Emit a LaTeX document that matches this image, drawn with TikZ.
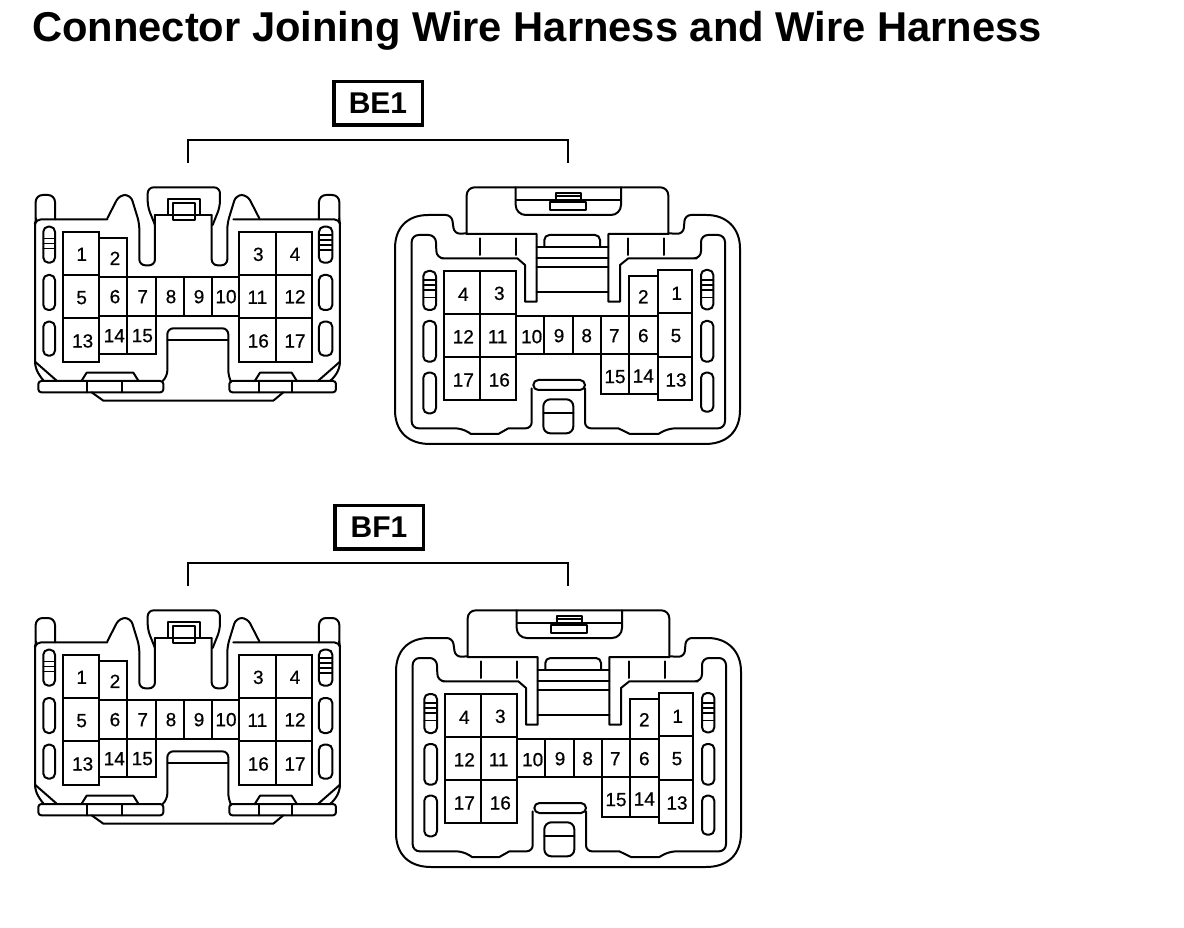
\documentclass[tikz,border=0pt]{standalone}
\usepackage{fontspec}
\setmainfont{Liberation Sans}
\newfontfamily\numfont[FakeBold=0.6]{Liberation Sans}
\tikzset{
 ln/.style={line width=2pt,line join=round,line cap=round,black},
 thin ln/.style={line width=1.5pt,line join=round,line cap=round,black},
 cellbox/.style={line width=2.2pt,black,line join=miter},
 num/.style={inner sep=0pt,font=\numfont\fontsize{19}{19}\selectfont},
 tag/.style={draw,line width=3.5pt,minimum width=88.5pt,minimum height=43.5pt,inner sep=0pt,font=\bfseries\fontsize{30}{30}\selectfont},
 brk/.style={line width=2.4pt,line cap=butt,line join=miter},
 zoomed/.style={x=0.33333pt,y=-0.33333pt}
}
% \cel{name}{x1}{y1}{x2}{y2}{text}{tx}{ty}
\newcommand{\cel}[8]{\draw[cellbox] (#2,#3) rectangle (#4,#5);\node[num] (#1) at (#7,#8) {#6};}
\newcommand{\slotv}[4]{\draw[ln,rounded corners=5pt] (#1,#2) rectangle (#3,#4);}
\newcommand{\leftconn}[2]{%
\begin{scope}[xshift=20pt,yshift=-#2pt,zoomed]
 % body
 \draw[ln,rounded corners=5pt] (262,148)--(48,148)--(45,160)--(45,590)--(60,620)--(72,633);
 \draw[ln,rounded corners=5pt] (640,148)--(958,148)--(960,160)--(960,590)--(945,620)--(930,633);
 \draw[ln] (45,575)--(110,632);
 \draw[ln] (960,575)--(895,632);
 % ears
 \draw[ln,rounded corners=7pt] (47,148)--(47,75)--(105,75)--(105,148);
 \draw[ln,rounded corners=7pt] (897,148)--(897,75)--(958,75)--(958,148);
 % humps
 \draw[ln,rounded corners=6pt] (262,145)--(298,75)--(332,75)--(358,160)--(358,286)--(405,286)--(405,135);
 \draw[ln,rounded corners=6pt] (718,145)--(682,75)--(648,75)--(622,160)--(622,286)--(575,286)--(575,135);
 \draw[ln] (405,135)--(575,135);
 % latch
 \draw[ln,rounded corners=6pt] (405,165)--(383,110)--(383,52)--(600,52)--(600,110)--(578,165);
 \draw[ln] (443,135)--(443,88)--(540,88)--(540,135);
 \draw[ln] (458,150)--(458,98)--(525,98)--(525,150)--cycle;
 % notch
 \draw[ln,rounded corners=6pt] (428,633)--(442,620)--(442,475)--(625,475)--(625,620)--(632,633);
 \draw[ln] (442,510)--(622,510);
 % flanges
 \draw[ln,rounded corners=3pt] (55,633) rectangle (430,667);
 \draw[ln,rounded corners=3pt] (628,633) rectangle (948,667);
 \draw[ln] (200,633)--(200,667) (305,633)--(305,667) (718,633)--(718,667) (815,633)--(815,667);
 \draw[ln] (185,632)--(200,608)--(340,608)--(355,632);
 \draw[ln] (705,632)--(720,608)--(815,608)--(830,632);
 \draw[ln] (215,667)--(250,692)--(760,692)--(790,667);
 % slots
 \slotv{70}{170}{105}{278}\slotv{70}{315}{105}{420}\slotv{70}{455}{105}{557}
 \slotv{897}{170}{937}{278}\slotv{897}{315}{937}{420}\slotv{897}{455}{937}{557}
 \draw[thin ln] (70,205)--(105,205) (70,220)--(105,220) (70,235)--(105,235);
 \draw[thin ln] (897,195)--(937,195) (897,210)--(937,210) (897,225)--(937,225) (897,240)--(937,240);
 % cells
 \cel{#1a}{130}{185}{238}{315}{1}{185}{253}
 \cel{#1b}{238}{203}{322}{320}{2}{285}{265}
 \cel{#1c}{130}{315}{238}{443}{5}{185}{383}
 \cel{#1d}{238}{320}{322}{438}{6}{285}{380}
 \cel{#1e}{322}{322}{407}{438}{7}{368}{380}
 \cel{#1f}{407}{322}{492}{438}{8}{453}{380}
 \cel{#1g}{492}{322}{577}{438}{9}{537}{380}
 \cel{#1h}{577}{322}{657}{438}{10}{618}{380}
 \cel{#1i}{130}{443}{238}{575}{13}{188}{513}
 \cel{#1j}{238}{438}{322}{553}{14}{283}{497}
 \cel{#1k}{322}{438}{407}{553}{15}{367}{497}
 \cel{#1l}{657}{185}{768}{315}{3}{715}{253}
 \cel{#1m}{768}{185}{875}{315}{4}{825}{253}
 \cel{#1n}{657}{315}{768}{443}{11}{712}{382}
 \cel{#1o}{768}{315}{875}{443}{12}{825}{380}
 \cel{#1p}{657}{443}{768}{575}{16}{715}{513}
 \cel{#1q}{768}{443}{875}{575}{17}{825}{513}
\end{scope}}
\newcommand{\rightconn}[3]{%
\begin{scope}[xshift=#3pt,yshift=-#2pt,zoomed]
 % outer
 \draw[ln,rounded corners=6pt] (245,190)--(208,192)--(200,135)--(175,135);
 \draw[ln] (175,135)--(130,135) .. controls (65,135) and (30,175) .. (30,235)--(30,720) .. controls (30,785) and (70,822) .. (135,822)--(960,822) .. controls (1025,822) and (1065,785) .. (1065,720)--(1065,235) .. controls (1065,175) and (1025,135) .. (965,135)--(925,135);
 \draw[ln,rounded corners=6pt] (925,135)--(900,135)--(895,192)--(850,190);
 \draw[ln,rounded corners=8pt] (245,192)--(245,52)--(850,52)--(850,192);
 % latch
 \draw[ln,rounded corners=10pt] (392,52)--(392,135)--(708,135)--(708,52);
 \draw[ln] (395,90)--(705,90);
 \draw[ln] (495,97) rectangle (603,120);
 \draw[ln] (512,90)--(512,68)--(587,68)--(587,90) (512,78)--(587,78);
 % inner
 \draw[ln] (245,192)--(455,192)--(455,395)--(420,395)--(420,285)--(397,265)--(170,265) [rounded corners=7pt] --(155,265)--(152,195)--(80,195)--(80,775)--(232,775)[sharp corners]--(258,792)--(340,792)--(370,775)[rounded corners=6pt]--(440,775)--(440,655);
 \draw[ln] (850,192)--(670,192)--(670,395)--(705,395)--(705,285)--(730,265)--(935,265) [rounded corners=7pt] --(948,265)--(948,195)--(1020,195)--(1020,775)--(850,775)[sharp corners]--(820,792)--(735,792)--(700,775)[rounded corners=6pt]--(600,775)--(600,655);
 \draw[ln,rounded corners=5pt] (445,630) rectangle (600,660);
 \draw[ln,rounded corners=7pt] (475,688) rectangle (565,790);
 \draw[ln] (475,730)--(565,730);
 \draw[ln] (285,205)--(285,255) (392,205)--(392,255) (730,205)--(730,255) (838,205)--(838,255);
 \draw[ln,rounded corners=5pt] (478,228)--(478,195)--(645,195)--(645,228);
 \draw[ln] (455,230)--(670,230) (455,265)--(670,265) (455,290)--(670,290) (455,365)--(670,365);
 % slots
 \slotv{115}{303}{153}{420}\slotv{115}{453}{153}{575}\slotv{115}{608}{153}{730}
 \slotv{948}{300}{985}{418}\slotv{948}{453}{985}{575}\slotv{948}{608}{985}{725}
 \draw[thin ln] (115,330)--(153,330) (115,345)--(153,345) (115,360)--(153,360) (115,382)--(153,382);
 \draw[thin ln] (948,330)--(985,330) (948,345)--(985,345) (948,360)--(985,360) (948,382)--(985,382);
 % cells
 \cel{#1a}{178}{303}{285}{433}{4}{235}{373}
 \cel{#1b}{285}{303}{392}{433}{3}{343}{370}
 \cel{#1c}{178}{433}{285}{562}{12}{235}{500}
 \cel{#1d}{285}{433}{392}{562}{11}{338}{500}
 \cel{#1e}{178}{562}{285}{690}{17}{235}{630}
 \cel{#1f}{285}{562}{392}{690}{16}{343}{630}
 \cel{#1g}{392}{438}{478}{553}{10}{440}{500}
 \cel{#1h}{478}{438}{563}{553}{9}{522}{497}
 \cel{#1i}{563}{438}{648}{553}{8}{605}{497}
 \cel{#1j}{648}{438}{733}{553}{7}{688}{497}
 \cel{#1k}{733}{438}{818}{553}{6}{775}{497}
 \cel{#1l}{733}{318}{818}{438}{2}{775}{380}
 \cel{#1m}{818}{300}{922}{430}{1}{875}{370}
 \cel{#1n}{818}{430}{922}{562}{5}{873}{497}
 \cel{#1o}{818}{562}{922}{690}{13}{873}{630}
 \cel{#1p}{648}{553}{733}{673}{15}{690}{620}
 \cel{#1q}{733}{553}{818}{673}{14}{775}{618}
\end{scope}}
\begin{document}
\begin{tikzpicture}[x=1pt,y=-1pt]
 \useasboundingbox (0,0) rectangle (1184,928);
 \fill[white] (0,0) rectangle (1184,928);
 \node[anchor=base west,inner sep=0pt,font=\bfseries\fontsize{41.7}{42}\selectfont] (title) at (32,41.5) {Connector Joining Wire Harness and Wire Harness};
 \node[tag] (BE) at (378,103.5) {BE1};
 \coordinate (bea) at (188,163); \coordinate (beb) at (568,163);
 \draw[brk] (bea)--++(0,-23)-|(beb);
 \node[tag] (BF) at (379,527) {BF1};
 \coordinate (bfa) at (188,586); \coordinate (bfb) at (568,586);
 \draw[brk] (bfa)--++(0,-23)-|(bfb);
 \leftconn{bel}{170}
 \rightconn{ber}{170}{385}
 \leftconn{bfl}{593}
 \rightconn{bfr}{593}{386}
\end{tikzpicture}
\end{document}
